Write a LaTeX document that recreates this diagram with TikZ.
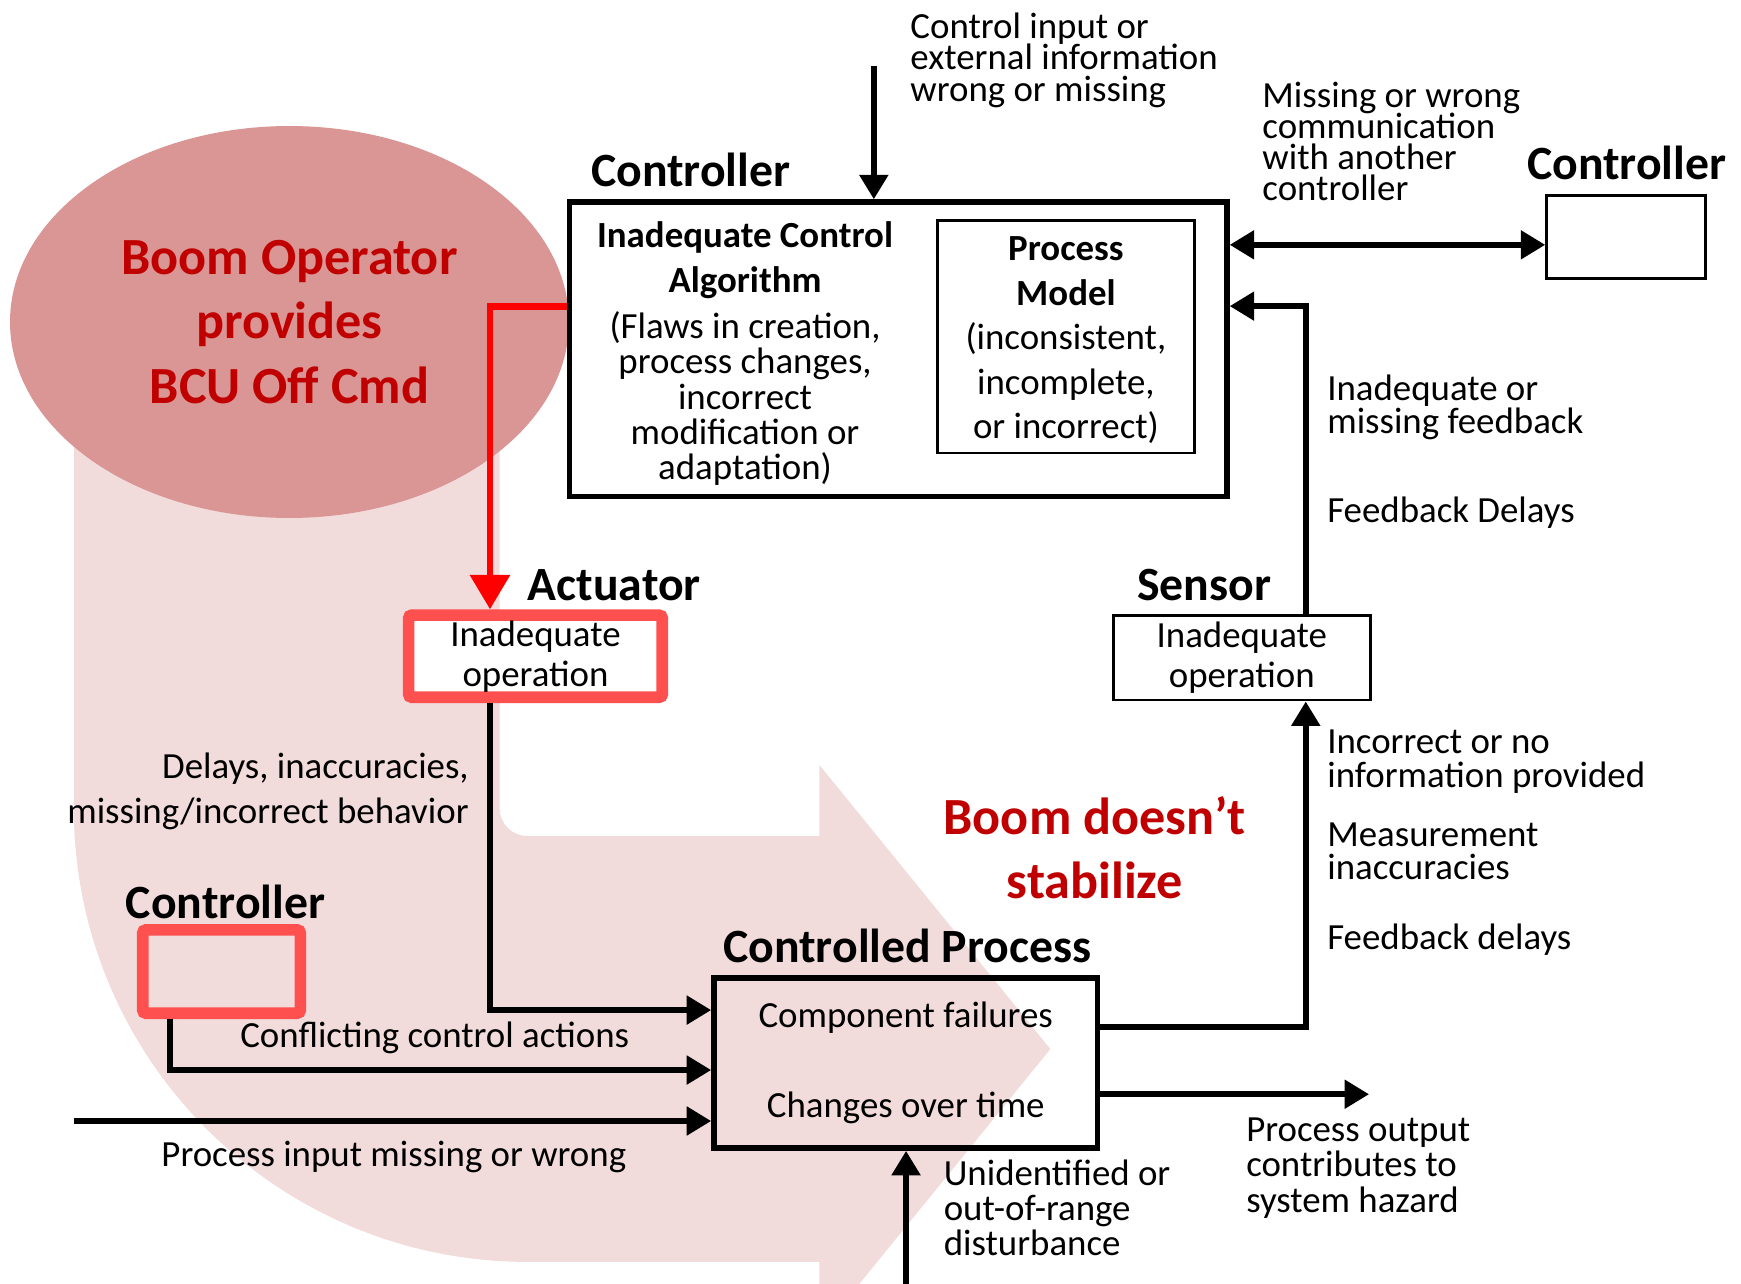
\documentclass[tikz,border=0pt]{standalone}
\usepackage{fontspec}
\setmainfont{Carlito}
\usetikzlibrary{arrows.meta,shapes.geometric}

\definecolor{bandpink}{HTML}{F2DCDB}
\definecolor{ovalpink}{HTML}{D99694}
\definecolor{boomred}{HTML}{C00000}
\definecolor{boxred}{HTML}{FF5050}

% font size and baseline distance, with no extra interline glue
\newcommand\txtsize[2]{\fontsize{#1}{#2}\selectfont\lineskiplimit=-100pt\relax}

\begin{document}
\begin{tikzpicture}[x=0.5pt, y=-0.5pt,
  lbl/.style={inner sep=0pt, font=\txtsize{16.6pt}{#1}},
  lbl/.default=16pt,
  lblb/.style={inner sep=0pt, font=\txtsize{16.6pt}{#1}\bfseries},
  lblb/.default=20pt,
  head/.style={inner sep=0pt, font=\txtsize{21.5pt}{26pt}\bfseries},
  boom/.style={inner sep=0pt, text=boomred, align=center, font=\txtsize{23.5pt}{#1}\bfseries},
  blackbox/.style={draw, line width=2.5pt},
  thinbox/.style={draw, line width=1.3pt, fill=white},
  redbox/.style={draw=boxred, line width=5.25pt, rounded corners=1.5pt},
  tip/.tip={Triangle[length=11pt,width=12.5pt]},
  arr/.style={line width=2.6pt, -tip},
  dblarr/.style={line width=2.6pt, tip-tip},
  redarr/.style={draw=red, line width=3pt, -{Triangle[length=15.5pt,width=17.5pt]}},
]
\useasboundingbox (0,0) rectangle (1568,1156);
\clip (0,0) rectangle (1568,1156);

% broad U-turn arrow in the background
\fill[bandpink] (66.5,300) -- (66.5,728) arc[start angle=180, end angle=90, radius=408.5]
  -- (738,1136.5) -- (738,1200.5) -- (946,944.75) -- (738,689) -- (738,753)
  -- (475,753) arc[start angle=90, end angle=180, radius=25] -- (450,300) -- cycle;

% unsafe control action
\node[ellipse, fill=ovalpink, minimum width=251.7pt, minimum height=176.5pt, boom=29pt]
  (oval) at (260.7,290) {Boom Operator\\provides\\BCU Off Cmd};

% main controller (multi-line texts are placed by the baseline of their last line)
\node[blackbox, fill=white, minimum width=296pt, minimum height=132.5pt] (ctrl) at (809,314.5) {};
\node[head, anchor=base west] (ctrlname) at (532,168) {Controller};
\node[lblb=20.2pt, align=center, anchor=base] (algo) at (671,263) {Inadequate Control\\Algorithm};
\node[lbl=15.9pt, align=center, anchor=base] (flaws) at (671,432)
  {(Flaws in creation,\\process changes,\\incorrect\\modification or\\adaptation)};
\node[thinbox, minimum width=115.4pt, minimum height=104.75pt] (pm) at (960,303.25) {};
\node[lbl=20pt, align=center, anchor=base] (pmtext) at (960,395)
  {\textbf{Process}\\\textbf{Model}\\(inconsistent,\\incomplete,\\or incorrect)};

% peer controller
\node[thinbox, minimum width=71.5pt, minimum height=37.5pt] (peer) at (1464.5,213.5) {};
\node[head, anchor=base west] (peername) at (1375,162) {Controller};

% sensor
\node[thinbox, lbl=18pt, align=center, minimum width=115.6pt, minimum height=38.25pt]
  (sensor) at (1118.4,592.2) {Inadequate\\operation};
\node[head, anchor=base west] (sensorname) at (1023.8,541) {Sensor};

% actuator
\node[redbox, fill=white, lbl=18pt, align=center, minimum width=114.25pt, minimum height=37pt]
  (act) at (482.25,591) {Inadequate\\operation};
\node[head, anchor=base west] (actname) at (475,541) {Actuator};

% second controller acting on the process
\node[redbox, minimum width=71pt, minimum height=37.5pt] (other) at (199.5,875) {};
\node[head, anchor=base west] (othername) at (113,827) {Controller};

% controlled process
\node[blackbox, lbl=40.5pt, align=center, minimum width=172.75pt, minimum height=76.5pt]
  (cp) at (815.75,957.5) {Component failures\\Changes over time};
\node[head, anchor=base west] (cpname) at (651,867) {Controlled Process};

% connector bend points and free ends
\coordinate (cin) at (787,59.5);
\coordinate (link) at ([yshift=-3.5pt]peer.west);
\coordinate (fbx) at (1176,275.7);
\coordinate (meas) at (1176,924.7);
\coordinate (cmd) at (441.3,276);
\coordinate (actout) at (441.3,909.7);
\coordinate (conf) at (153,963.7);
\coordinate (pin) at (66.5,1009.6);
\coordinate (out) at (1233,985.5);
\coordinate (dist) at (816,1160);

% connectors
\draw[arr] (cin) -- (cin |- ctrl.north);
\draw[dblarr] (ctrl.east |- link) -- (link);
\draw[arr] (sensor.north -| fbx) |- (ctrl.east |- fbx);
\draw[arr] (cp.east |- meas) -| (sensor.south -| meas);
\draw[redarr] (ctrl.west |- cmd) -| (act.north -| cmd);
\draw[arr] (act.south -| actout) |- (cp.west |- actout);
\draw[arr] (other.south -| conf) |- (cp.west |- conf);
\draw[arr] (pin) -- (pin -| cp.west);
\draw[arr] (cp.east |- out) -- (out);
\draw[arr] (dist) -- (dist |- cp.south);

% connector labels
\node[lbl=14pt, align=left, anchor=base west] (cinnote) at (819.6,91)
  {Control input or\\external information\\wrong or missing};
\node[lbl=14.1pt, align=left, anchor=base west] (linknote) at (1136.6,181)
  {Missing or wrong\\communication\\with another\\controller};
\node[lbl=14.5pt, align=left, anchor=base west] (fbnote) at (1195,390)
  {Inadequate or\\missing feedback};
\node[lbl, anchor=base west] (fbdelay) at (1195,471) {Feedback Delays};
\node[lbl=15pt, align=left, anchor=base west] (measnote1) at (1195,709)
  {Incorrect or no\\information provided};
\node[lbl=15pt, align=left, anchor=base west] (measnote2) at (1195,792)
  {Measurement\\inaccuracies};
\node[lbl, anchor=base west] (measnote3) at (1195,855) {Feedback delays};
\node[lbl=20.4pt, align=right, anchor=base east] (actnote) at (422.5,742)
  {Delays, inaccuracies,\\missing/incorrect behavior};
\node[lbl, anchor=base west] (confnote) at (216,943) {Conflicting control actions};
\node[lbl, anchor=base west] (pinnote) at (145,1051) {Process input missing or wrong};
\node[lbl=16pt, align=left, anchor=base west] (outnote) at (1122,1092)
  {Process output\\contributes to\\system hazard};
\node[lbl=15.9pt, align=left, anchor=base west] (distnote) at (849.6,1131)
  {Unidentified or\\out-of-range\\disturbance};

% resulting hazard
\node[boom=28.5pt, anchor=base] (result) at (986,809) {Boom doesn’t\\stabilize};
\end{tikzpicture}
\end{document}
